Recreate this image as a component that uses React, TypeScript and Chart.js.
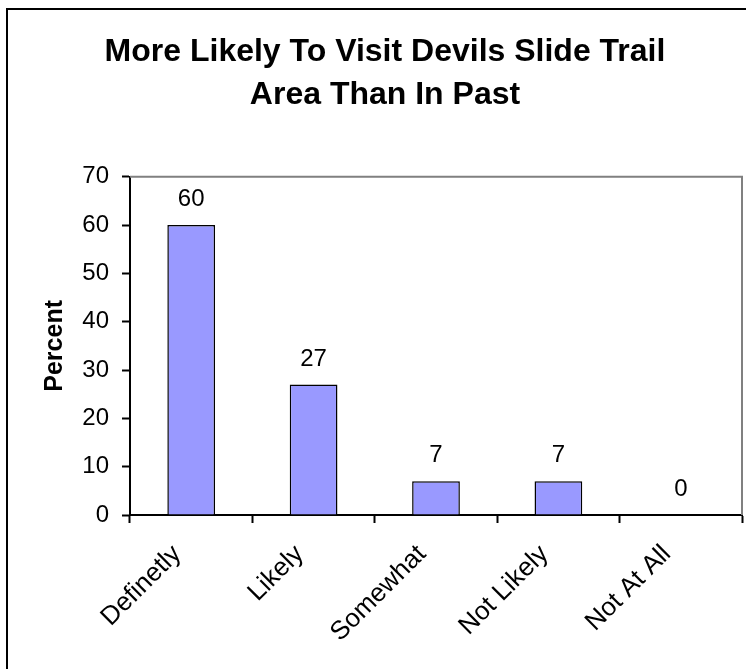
import React, { useEffect, useRef } from "react";
import { Chart, registerables } from "chart.js";

Chart.register(...registerables);

const categories = ["Definetly", "Likely", "Somewhat", "Not Likely", "Not At All"];
const percentValues = [60, 27, 7, 7, 0];
const titleLines = ["More Likely To Visit Devils Slide Trail", "Area Than In Past"];
const yAxisTitle = "Percent";

const FONT = "'Liberation Sans', Arial, sans-serif";

// Outer frame plus the grey top/right edges of the plot area
const framePlugin = {
  id: "frame",
  beforeDraw(chart: any) {
    const { ctx } = chart;
    ctx.save();
    ctx.fillStyle = "#ffffff";
    ctx.fillRect(0, 0, chart.width, chart.height);
    ctx.strokeStyle = "#000000";
    ctx.lineWidth = 2;
    ctx.strokeRect(7, 9, chart.width + 20, chart.height + 20);
    ctx.restore();
  },
  afterDraw(chart: any) {
    const { ctx, chartArea } = chart;
    ctx.save();
    ctx.strokeStyle = "#808080";
    ctx.lineWidth = 2;
    ctx.beginPath();
    ctx.moveTo(chartArea.left, chartArea.top);
    ctx.lineTo(chartArea.right, chartArea.top);
    ctx.lineTo(chartArea.right, chartArea.bottom);
    ctx.stroke();
    ctx.restore();
  },
};

// Value labels above each bar
const valueLabelPlugin = {
  id: "valueLabels",
  afterDatasetsDraw(chart: any) {
    const { ctx } = chart;
    const meta = chart.getDatasetMeta(0);
    ctx.save();
    ctx.fillStyle = "#000000";
    ctx.font = `24px ${FONT}`;
    ctx.textAlign = "center";
    ctx.textBaseline = "alphabetic";
    meta.data.forEach((bar: any, i: number) => {
      ctx.fillText(String(percentValues[i]), bar.x, bar.y - 19);
    });
    ctx.restore();
  },
};

export default function App() {
  const canvasRef = useRef<HTMLCanvasElement | null>(null);

  useEffect(() => {
    if (!canvasRef.current) return;
    const chart = new Chart(canvasRef.current, {
      type: "bar",
      data: {
        labels: categories,
        datasets: [
          {
            data: percentValues,
            backgroundColor: "#9999FF",
            borderColor: "#000000",
            borderWidth: 1.5,
            barPercentage: 0.39,
            categoryPercentage: 1,
          },
        ],
      },
      options: {
        animation: false,
        responsive: false,
        maintainAspectRatio: false,
        layout: { padding: { left: 28, right: 4, top: 0, bottom: 0 } },
        plugins: {
          legend: { display: false },
          tooltip: { enabled: false },
          title: {
            display: true,
            text: titleLines,
            color: "#000000",
            font: { family: FONT, size: 32, weight: "bold", lineHeight: 1.34 },
            padding: { top: 31, bottom: 60 },
          },
        },
        scales: {
          x: {
            offset: true,
            grid: {
              offset: true,
              drawOnChartArea: false,
              drawTicks: true,
              tickLength: 8,
              tickWidth: 2,
              tickColor: "#000000",
            },
            border: { display: true, color: "#000000", width: 2 },
            ticks: {
              color: "#000000",
              font: { family: FONT, size: 26 },
              minRotation: 45,
              maxRotation: 45,
              autoSkip: false,
              padding: 16,
              labelOffset: -14,
            },
            afterFit(scale: any) {
              scale.height = 154;
            },
          },
          y: {
            min: 0,
            max: 70,
            ticks: {
              stepSize: 10,
              color: "#000000",
              font: { family: FONT, size: 24 },
              padding: 13,
            },
            grid: {
              drawOnChartArea: false,
              drawTicks: true,
              tickLength: 8,
              tickWidth: 2,
              tickColor: "#000000",
            },
            border: { display: true, color: "#000000", width: 2 },
            title: {
              display: true,
              text: yAxisTitle,
              color: "#000000",
              font: { family: FONT, size: 25, weight: "bold" },
              padding: { top: 12, bottom: 0 },
            },
            afterFit(scale: any) {
              scale.width = 102;
            },
          },
        },
      },
      plugins: [framePlugin, valueLabelPlugin],
    });
    return () => chart.destroy();
  }, []);

  return (
    <div style={{ position: "absolute", left: 0, top: 0, width: 746, height: 669 }}>
      <canvas ref={canvasRef} width={746} height={669} style={{ display: "block" }} />
    </div>
  );
}
